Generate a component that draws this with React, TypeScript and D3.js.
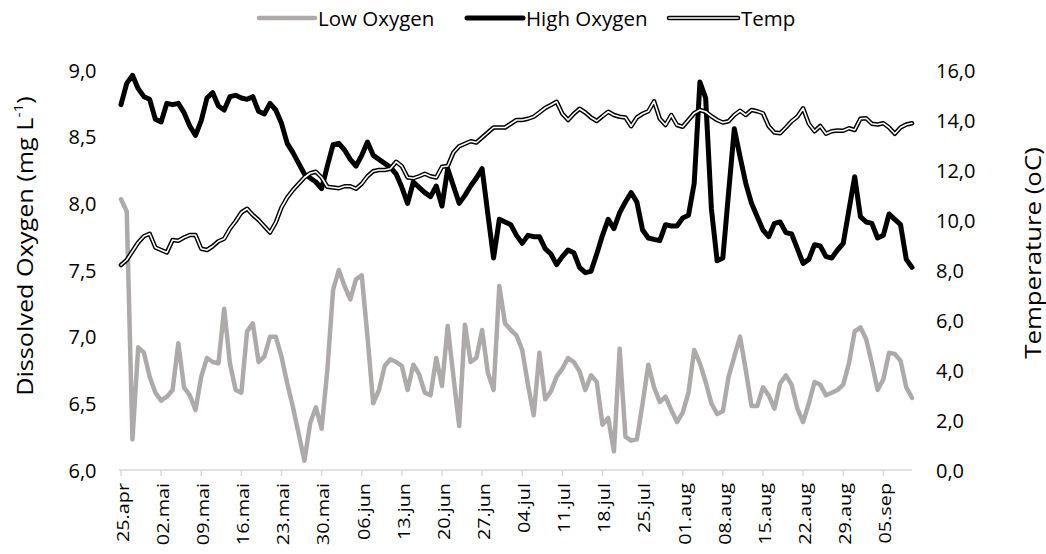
import React from "react";
import * as d3 from "d3";

// Daily dissolved oxygen (mg/L) and water temperature (°C), 25 April – 10 September
const lowOxygen = [
  8.03, 7.94, 6.23, 6.92, 6.88, 6.70, 6.58, 6.52, 6.55, 6.60,
  6.95, 6.62, 6.56, 6.45, 6.70, 6.84, 6.81, 6.80, 7.21, 6.80,
  6.60, 6.58, 7.04, 7.10, 6.81, 6.85, 7.00, 7.00, 6.85, 6.65,
  6.47, 6.27, 6.07, 6.35, 6.47, 6.31, 6.75, 7.35, 7.50, 7.38,
  7.28, 7.43, 7.46, 7.00, 6.50, 6.60, 6.78, 6.83, 6.81, 6.78,
  6.60, 6.79, 6.72, 6.58, 6.56, 6.84, 6.63, 7.08, 6.70, 6.33,
  7.09, 6.81, 6.84, 7.05, 6.73, 6.60, 7.38, 7.10, 7.05, 7.01,
  6.90, 6.64, 6.41, 6.88, 6.53, 6.59, 6.70, 6.76, 6.84, 6.81,
  6.74, 6.60, 6.71, 6.66, 6.34, 6.39, 6.14, 6.91, 6.25, 6.22,
  6.23, 6.50, 6.79, 6.62, 6.51, 6.55, 6.45, 6.36, 6.43, 6.58,
  6.90, 6.80, 6.66, 6.50, 6.42, 6.44, 6.70, 6.85, 7.00, 6.75,
  6.48, 6.48, 6.62, 6.56, 6.46, 6.65, 6.71, 6.64, 6.46, 6.36,
  6.50, 6.66, 6.64, 6.56, 6.58, 6.60, 6.64, 6.80, 7.04, 7.07,
  6.98, 6.80, 6.60, 6.68, 6.88, 6.87, 6.82, 6.62, 6.54,
];

const highOxygen = [
  8.74, 8.90, 8.96, 8.86, 8.80, 8.78, 8.63, 8.61, 8.75, 8.74,
  8.75, 8.68, 8.58, 8.51, 8.62, 8.79, 8.83, 8.73, 8.70, 8.80,
  8.81, 8.79, 8.78, 8.80, 8.69, 8.67, 8.75, 8.70, 8.60, 8.45,
  8.38, 8.30, 8.22, 8.19, 8.16, 8.11, 8.28, 8.44, 8.45, 8.40,
  8.33, 8.28, 8.36, 8.46, 8.36, 8.33, 8.30, 8.27, 8.22, 8.12,
  8.00, 8.16, 8.12, 8.08, 8.05, 8.13, 7.98, 8.26, 8.13, 8.00,
  8.06, 8.13, 8.19, 8.26, 7.92, 7.59, 7.88, 7.86, 7.84, 7.76,
  7.70, 7.76, 7.75, 7.75, 7.66, 7.62, 7.54, 7.60, 7.65, 7.63,
  7.52, 7.48, 7.49, 7.62, 7.76, 7.88, 7.81, 7.93, 8.01, 8.08,
  8.01, 7.80, 7.74, 7.73, 7.72, 7.84, 7.83, 7.83, 7.89, 7.91,
  8.15, 8.91, 8.79, 7.96, 7.57, 7.59, 8.08, 8.56, 8.35, 8.15,
  8.00, 7.90, 7.80, 7.75, 7.85, 7.86, 7.78, 7.77, 7.66, 7.55,
  7.58, 7.69, 7.68, 7.60, 7.59, 7.65, 7.70, 7.95, 8.20, 7.90,
  7.86, 7.85, 7.74, 7.76, 7.92, 7.88, 7.84, 7.58, 7.52,
];

const temperature = [
  8.20, 8.40, 8.75, 9.10, 9.35, 9.45, 8.90, 8.80, 8.70, 9.20,
  9.17, 9.30, 9.40, 9.40, 8.85, 8.80, 8.95, 9.15, 9.25, 9.65,
  9.95, 10.30, 10.45, 10.20, 10.00, 9.75, 9.50, 9.90, 10.50, 10.90,
  11.20, 11.45, 11.70, 11.87, 11.93, 11.70, 11.33, 11.30, 11.27, 11.35,
  11.35, 11.25, 11.45, 11.75, 11.95, 12.00, 12.00, 12.05, 12.33, 12.15,
  11.70, 11.67, 11.75, 11.85, 11.75, 11.70, 12.13, 12.16, 12.70, 12.95,
  13.05, 13.15, 13.10, 13.30, 13.50, 13.70, 13.70, 13.70, 13.85, 14.00,
  14.00, 14.05, 14.13, 14.30, 14.48, 14.60, 14.73, 14.25, 14.00, 14.25,
  14.45, 14.30, 14.10, 13.96, 14.15, 14.33, 14.20, 14.13, 14.10, 13.75,
  14.10, 14.25, 14.35, 14.75, 14.05, 13.80, 14.20, 13.80, 13.73, 14.00,
  14.27, 14.40, 14.33, 14.15, 14.00, 13.90, 13.95, 14.20, 14.37, 14.20,
  14.40, 14.35, 14.27, 13.75, 13.50, 13.47, 13.70, 13.95, 14.13, 14.47,
  13.85, 13.55, 13.76, 13.45, 13.55, 13.58, 13.57, 13.67, 13.60, 14.05,
  14.07, 13.85, 13.82, 13.87, 13.70, 13.45, 13.70, 13.82, 13.87,
];

const firstDate = [2018, 3, 25];
const monthNames = ["jan", "feb", "mar", "apr", "mai", "jun", "jul", "aug", "sep", "okt", "nov", "des"];
const oxygenTicks = [6.0, 6.5, 7.0, 7.5, 8.0, 8.5, 9.0];
const temperatureTicks = [0, 2, 4, 6, 8, 10, 12, 14, 16];

const FONT = "'Open Sans', 'Noto Sans', sans-serif";
const GREY = "#AEAAAA";
const AXIS = "#D9D9D9";
const TEXT = "#000000";

const W = 1046;
const H = 554;
const plot = { left: 121, right: 912, top: 70, bottom: 470 };

const comma1 = (v: number) => d3.format(".1f")(v).replace(".", ",");
const dayLabel = (d: Date) =>
  `${String(d.getUTCDate()).padStart(2, "0")}.${monthNames[d.getUTCMonth()]}`;

export default function App() {
  const start = new Date(Date.UTC(firstDate[0], firstDate[1], firstDate[2]));
  const days = lowOxygen.map((_, i) => d3.utcDay.offset(start, i));
  const end = days[days.length - 1];

  const x = d3.scaleUtc().domain([start, end]).range([plot.left, plot.right]);
  const yO = d3.scaleLinear().domain([6, 9]).range([plot.bottom, plot.top]);
  const yT = d3.scaleLinear().domain([0, 16]).range([plot.bottom, plot.top]);

  const weekTicks = d3.utcDay.range(start, d3.utcDay.offset(end, 1), 7);

  const oxLine = d3
    .line<number>()
    .x((_, i) => x(days[i]))
    .y((v) => yO(v));
  const tLine = d3
    .line<number>()
    .x((_, i) => x(days[i]))
    .y((v) => yT(v));

  const legendY = 18;
  const legend = [
    { label: "Low Oxygen", x0: 259, x1: 315, kind: "low" },
    { label: "High Oxygen", x0: 467, x1: 523, kind: "high" },
    { label: "Temp", x0: 669, x1: 738, kind: "temp" },
  ];

  return (
    <svg
      width={W}
      height={H}
      style={{ position: "fixed", left: 0, top: 0, background: "#fff" }}
      fontFamily={FONT}
    >
      <rect width={W} height={H} fill="#fff" />

      {/* category axis */}
      <line x1={plot.left - 2} x2={plot.right} y1={plot.bottom} y2={plot.bottom} stroke={AXIS} strokeWidth={1.5} />
      {weekTicks.map((d, i) => (
        <g key={i}>
          <line x1={x(d)} x2={x(d)} y1={plot.bottom} y2={plot.bottom + 6} stroke={AXIS} strokeWidth={1.5} />
          <text
            transform={`translate(${x(d) + 1.5},${plot.bottom + 13}) rotate(-90) scale(1.2,1)`}
            textAnchor="end"
            dominantBaseline="central"
            fontSize={16.5}
            fill={TEXT}
          >
            {dayLabel(d)}
          </text>
        </g>
      ))}

      {/* left axis labels */}
      {oxygenTicks.map((t) => (
        <text key={t} x={96.5} y={yO(t)} textAnchor="end" dominantBaseline="central" fontSize={20} fill={TEXT}>
          {comma1(t)}
        </text>
      ))}
      {/* right axis labels */}
      {temperatureTicks.map((t) => (
        <text key={t} x={936} y={yT(t)} textAnchor="start" dominantBaseline="central" fontSize={20} fill={TEXT}>
          {comma1(t)}
        </text>
      ))}

      {/* axis titles */}
      <text
        transform={`translate(25,246) rotate(-90) scale(1.2,1)`}
        textAnchor="middle"
        dominantBaseline="central"
        fontSize={21}
        fill={TEXT}
      >
        Dissolved Oxygen (mg L
        <tspan dy={-7} fontSize={13}>-1</tspan>
        <tspan dy={7}>)</tspan>
      </text>
      <text
        transform={`translate(1033,253) rotate(-90) scale(1.23,1)`}
        textAnchor="middle"
        dominantBaseline="central"
        fontSize={21}
        fill={TEXT}
      >
        Temperature (oC)
      </text>

      {/* series */}
      <path d={oxLine(lowOxygen) ?? ""} fill="none" stroke={GREY} strokeWidth={4.5} strokeLinejoin="round" strokeLinecap="round" />
      <path d={oxLine(highOxygen) ?? ""} fill="none" stroke="#000" strokeWidth={5} strokeLinejoin="round" strokeLinecap="round" />
      <path d={tLine(temperature) ?? ""} fill="none" stroke="#000" strokeWidth={4.5} strokeLinejoin="round" strokeLinecap="round" />
      <path d={tLine(temperature) ?? ""} fill="none" stroke="#fff" strokeWidth={1.6} strokeLinejoin="round" strokeLinecap="round" />

      {/* legend */}
      {legend.map((l) => (
        <g key={l.label}>
          {l.kind === "low" && (
            <line x1={l.x0} x2={l.x1} y1={legendY} y2={legendY} stroke={GREY} strokeWidth={4.5} strokeLinecap="round" />
          )}
          {l.kind === "high" && (
            <line x1={l.x0} x2={l.x1} y1={legendY} y2={legendY} stroke="#000" strokeWidth={5} strokeLinecap="round" />
          )}
          {l.kind === "temp" && (
            <>
              <line x1={l.x0} x2={l.x1} y1={legendY} y2={legendY} stroke="#000" strokeWidth={4.5} strokeLinecap="round" />
              <line x1={l.x0} x2={l.x1} y1={legendY} y2={legendY} stroke="#fff" strokeWidth={1.6} strokeLinecap="round" />
            </>
          )}
          <text x={l.x1 + 3} y={legendY} dominantBaseline="central" fontSize={20.5} fill={TEXT}>
            {l.label}
          </text>
        </g>
      ))}
    </svg>
  );
}
